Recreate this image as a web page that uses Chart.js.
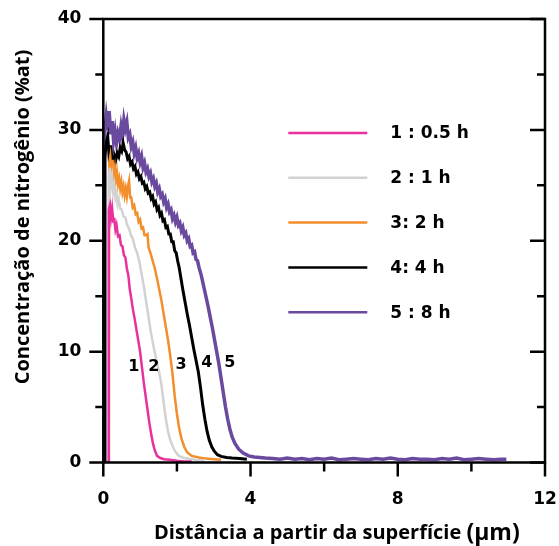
<!DOCTYPE html>
<html>
<head>
<meta charset="utf-8">
<script src="https://cdn.jsdelivr.net/npm/chart.js@4.4.0/dist/chart.umd.min.js"></script>
<style>
  html, body { margin: 0; padding: 0; background: #fff; }
</style>
</head>
<body>
<canvas id="chart" width="559" height="546"></canvas>
<script>
// --- Data (x in µm, y in %at) ---

const seriesLabels = ['1 : 0.5 h', '2 : 1 h', '3: 2 h', '4: 4 h', '5 : 8 h'];
const seriesColors = ['#e8319c', '#d2d2d2', '#f28e2b', '#000000', '#6a4a9e'];

const pinkX = [0.14, 0.15, 0.18, 0.21, 0.24, 0.27, 0.30, 0.33, 0.36, 0.40, 0.44, 0.48, 0.52, 0.56, 0.60, 0.64, 0.68, 0.72, 0.76, 0.80, 0.85, 0.90, 0.95, 1.00, 1.05, 1.10, 1.15, 1.20, 1.25, 1.30, 1.35, 1.40, 1.46, 1.55, 1.65, 1.80, 2.00, 2.20, 2.40];
const pinkY = [0, 22.8, 23.2, 22.1, 22.9, 21.8, 21.9, 21.0, 21.4, 20.4, 20.5, 19.6, 19.5, 18.7, 18.5, 17.5, 16.9, 15.6, 14.8, 13.9, 13.0, 12.0, 11.0, 10.0, 8.6, 7.2, 6.0, 4.8, 3.6, 2.6, 1.7, 1.1, 0.6, 0.4, 0.3, 0.25, 0.15, 0.1, 0.1];

const grayX = [0.14, 0.15, 0.18, 0.21, 0.24, 0.27, 0.30, 0.33, 0.36, 0.39, 0.42, 0.46, 0.50, 0.55, 0.60, 0.65, 0.70, 0.75, 0.80, 0.86, 0.92, 0.98, 1.04, 1.10, 1.16, 1.22, 1.28, 1.34, 1.40, 1.46, 1.52, 1.58, 1.64, 1.70, 1.76, 1.82, 1.88, 1.95, 2.05, 2.20, 2.40, 2.60, 2.75];
const grayY = [0, 25.8, 26.6, 25.0, 25.7, 24.4, 25.0, 23.9, 24.3, 23.3, 23.7, 22.9, 22.8, 22.2, 22.1, 21.4, 21.1, 20.5, 20.2, 19.4, 18.9, 18.1, 17.0, 15.9, 14.6, 13.3, 12.0, 10.9, 9.9, 9.0, 8.1, 7.0, 5.4, 3.9, 2.8, 2.0, 1.5, 1.0, 0.6, 0.4, 0.3, 0.2, 0.2];

const orangeX = [0.15, 0.16, 0.19, 0.22, 0.25, 0.28, 0.31, 0.34, 0.37, 0.40, 0.43, 0.46, 0.49, 0.52, 0.55, 0.58, 0.61, 0.64, 0.67, 0.70, 0.73, 0.76, 0.80, 0.84, 0.88, 0.92, 0.96, 1.00, 1.04, 1.08, 1.12, 1.16, 1.20, 1.23, 1.28, 1.34, 1.40, 1.46, 1.52, 1.58, 1.64, 1.70, 1.76, 1.82, 1.88, 1.94, 2.00, 2.06, 2.12, 2.20, 2.28, 2.40, 2.60, 2.80, 3.00, 3.20];
const orangeY = [0, 27.0, 27.6, 26.2, 27.3, 26.0, 26.6, 25.5, 26.2, 25.1, 25.6, 24.7, 25.3, 24.4, 24.9, 24.1, 24.7, 24.0, 24.9, 25.4, 23.9, 23.9, 23.0, 23.2, 22.4, 22.5, 21.7, 21.9, 21.1, 21.2, 20.5, 20.5, 20.6, 19.4, 18.9, 18.2, 17.5, 16.6, 15.6, 14.6, 13.4, 12.2, 11.0, 9.6, 8.0, 6.0, 4.4, 3.1, 2.2, 1.4, 0.9, 0.6, 0.45, 0.35, 0.3, 0.25];

const blackX = [0.03, 0.04, 0.08, 0.12, 0.15, 0.18, 0.20, 0.24, 0.28, 0.31, 0.34, 0.38, 0.42, 0.46, 0.50, 0.54, 0.58, 0.62, 0.66, 0.70, 0.74, 0.78, 0.82, 0.86, 0.90, 0.94, 0.98, 1.02, 1.06, 1.10, 1.14, 1.18, 1.22, 1.26, 1.30, 1.34, 1.38, 1.42, 1.46, 1.50, 1.54, 1.58, 1.62, 1.66, 1.70, 1.74, 1.78, 1.82, 1.86, 1.90, 1.94, 1.98, 2.02, 2.06, 2.10, 2.16, 2.22, 2.28, 2.34, 2.40, 2.46, 2.52, 2.58, 2.64, 2.70, 2.76, 2.82, 2.88, 2.95, 3.02, 3.10, 3.20, 3.35, 3.50, 3.70, 3.90];
const blackY = [0, 27.5, 28.8, 29.4, 28.0, 26.4, 28.6, 27.2, 26.2, 27.6, 27.3, 27.9, 27.6, 28.4, 28.1, 28.8, 28.2, 28.0, 27.4, 27.6, 26.9, 27.1, 26.5, 26.7, 26.0, 26.2, 25.6, 25.8, 25.2, 25.3, 24.7, 24.9, 24.3, 24.4, 23.8, 24.0, 23.3, 23.5, 22.8, 23.0, 22.3, 22.5, 21.8, 21.9, 21.2, 21.3, 20.6, 20.6, 19.9, 19.9, 19.1, 18.9, 18.2, 17.6, 16.8, 15.6, 14.5, 13.4, 12.4, 11.3, 10.2, 9.2, 8.2, 6.8, 5.2, 3.9, 2.8, 2.0, 1.4, 1.0, 0.7, 0.55, 0.45, 0.4, 0.35, 0.3];

const purpleX = [0.03, 0.04, 0.08, 0.12, 0.16, 0.20, 0.24, 0.28, 0.32, 0.36, 0.40, 0.44, 0.48, 0.52, 0.56, 0.60, 0.64, 0.68, 0.72, 0.76, 0.80, 0.84, 0.88, 0.92, 0.96, 1.00, 1.04, 1.08, 1.12, 1.16, 1.20, 1.24, 1.28, 1.32, 1.36, 1.40, 1.44, 1.48, 1.52, 1.56, 1.60, 1.64, 1.68, 1.72, 1.76, 1.80, 1.84, 1.88, 1.92, 1.96, 2.00, 2.04, 2.08, 2.12, 2.16, 2.20, 2.24, 2.28, 2.32, 2.36, 2.40, 2.44, 2.48, 2.52, 2.56, 2.60, 2.66, 2.72, 2.78, 2.84, 2.90, 2.96, 3.02, 3.08, 3.14, 3.20, 3.26, 3.32, 3.38, 3.44, 3.50, 3.58, 3.68, 3.80, 3.95, 4.10, 4.40, 4.60, 4.80, 5.00, 5.20, 5.40, 5.60, 5.80, 6.00, 6.20, 6.40, 6.60, 6.80, 7.00, 7.20, 7.40, 7.60, 7.80, 8.00, 8.20, 8.40, 8.60, 8.80, 9.00, 9.20, 9.40, 9.60, 9.80, 10.00, 10.20, 10.40, 10.60, 10.80, 10.95];
const purpleY = [0, 29.8, 31.2, 30.0, 31.7, 29.6, 30.8, 29.0, 29.9, 28.8, 29.7, 29.2, 30.3, 29.4, 30.9, 30.1, 30.7, 29.3, 29.6, 28.5, 28.9, 27.9, 28.4, 27.5, 27.9, 27.1, 27.6, 26.6, 27.0, 26.2, 26.5, 25.8, 26.1, 25.3, 25.6, 24.9, 25.2, 24.4, 24.7, 24.0, 24.2, 23.5, 23.8, 23.0, 23.3, 22.6, 22.8, 22.0, 22.3, 21.7, 22.1, 21.4, 21.6, 20.9, 21.2, 20.5, 20.7, 20.0, 20.2, 19.5, 19.6, 18.9, 19.0, 18.3, 18.2, 17.6, 16.9, 16.0, 15.1, 14.2, 13.2, 12.2, 11.1, 10.0, 8.9, 7.6, 6.3, 5.0, 3.9, 3.0, 2.3, 1.7, 1.2, 0.85, 0.6, 0.5, 0.4, 0.35, 0.3, 0.4, 0.3, 0.35, 0.25, 0.35, 0.3, 0.4, 0.25, 0.3, 0.35, 0.3, 0.25, 0.35, 0.3, 0.4, 0.3, 0.25, 0.35, 0.3, 0.3, 0.25, 0.35, 0.3, 0.4, 0.25, 0.3, 0.35, 0.3, 0.25, 0.3, 0.3];

const xTicks = [0, 4, 8, 12];
const yTicks = [0, 10, 20, 30, 40];

// curve numbers written next to the falling edges
const curveNumbers = ['1', '2', '3', '4', '5'];
const curveNumberX = [0.83, 1.37, 2.11, 2.81, 3.44];
const curveNumberY = [8.6, 8.6, 8.8, 9.0, 9.0];

const xTitle = 'Distância a partir da superfície ';
const xTitleUnit = '(µm)';
const yTitle = 'Concentração de nitrogênio (%at)';

// --- Build datasets ---

const allX = [pinkX, grayX, orangeX, blackX, purpleX];
const allY = [pinkY, grayY, orangeY, blackY, purpleY];
const widths = [2.5, 2.5, 2.5, 3, 3.5];

const datasets = allX.map((xs, i) => ({
  label: seriesLabels[i],
  data: xs.map((x, j) => ({ x: x, y: allY[i][j] })),
  borderColor: seriesColors[i],
  borderWidth: widths[i],
  pointRadius: 0,
  showLine: true,
  tension: 0,
}));

const tickFont = { family: 'DejaVu Sans', weight: 'bold', size: 17 };

// frame, tick marks, legend, curve numbers and axis titles
const decorations = {
  id: 'decorations',
  afterDatasetsDraw(chart) {
    const { ctx, chartArea: a, scales: { x, y } } = chart;
    ctx.save();
    ctx.strokeStyle = '#000';
    ctx.lineWidth = 2.5;

    ctx.beginPath();
    ctx.rect(a.left, a.top, a.right - a.left, a.bottom - a.top);
    ctx.stroke();

    x.ticks.forEach(t => {
      const px = x.getPixelForValue(t.value);
      const len = xTicks.includes(t.value) ? 14 : 9;
      ctx.beginPath();
      ctx.moveTo(px, a.bottom);
      ctx.lineTo(px, a.bottom + len);
      ctx.stroke();
    });

    y.ticks.forEach(t => {
      const py = y.getPixelForValue(t.value);
      const major = yTicks.includes(t.value);
      ctx.beginPath();
      ctx.moveTo(a.left, py);
      ctx.lineTo(a.left - (major ? 14 : 8), py);
      ctx.moveTo(a.right, py);
      ctx.lineTo(a.right - (major ? 15 : 8), py);
      ctx.stroke();
    });

    // legend
    ctx.font = 'bold 17px "DejaVu Sans"';
    ctx.fillStyle = '#000';
    ctx.textBaseline = 'middle';
    ctx.textAlign = 'left';
    seriesLabels.forEach((lab, i) => {
      const ly = a.top + 114 + i * 44.8;
      ctx.strokeStyle = seriesColors[i];
      ctx.lineWidth = 2.5;
      ctx.beginPath();
      ctx.moveTo(a.left + 185, ly);
      ctx.lineTo(a.left + 264, ly);
      ctx.stroke();
      ctx.fillText(lab, a.left + 287, ly + 1);
    });

    // numbers beside the curves
    ctx.font = 'bold 16px "DejaVu Sans"';
    ctx.textAlign = 'center';
    curveNumbers.forEach((n, i) => {
      ctx.fillText(n, x.getPixelForValue(curveNumberX[i]), y.getPixelForValue(curveNumberY[i]));
    });

    // x title, unit a bit larger
    ctx.textAlign = 'left';
    ctx.textBaseline = 'alphabetic';
    ctx.font = 'bold 20px "Open Sans"';
    ctx.fillText(xTitle, 154, 539);
    const w = ctx.measureText(xTitle).width;
    ctx.font = 'bold 23px "Open Sans"';
    ctx.fillText(xTitleUnit, 154 + w, 540);

    // y title
    ctx.translate(29, 217);
    ctx.rotate(-Math.PI / 2);
    ctx.font = 'bold 20px "Open Sans"';
    ctx.textAlign = 'center';
    ctx.fillText(yTitle, 0, 0);
    ctx.restore();
  }
};

new Chart(document.getElementById('chart'), {
  type: 'scatter',
  data: { datasets },
  options: {
    responsive: false,
    animation: false,
    layout: { padding: { top: 19, right: 14, left: 0, bottom: 0 } },
    plugins: { legend: { display: false }, tooltip: { enabled: false } },
    scales: {
      x: {
        type: 'linear', min: 0, max: 12,
        border: { display: false },
        grid: { display: true, drawOnChartArea: false, tickLength: 14, tickColor: 'rgba(0,0,0,0)' },
        ticks: {
          stepSize: 2, padding: 13, color: '#000', font: tickFont, maxRotation: 0,
          callback: v => (xTicks.includes(v) ? String(v) : '')
        },
        afterFit: s => { s.height = 83.5; s.paddingLeft = 0; s.paddingRight = 0; }
      },
      y: {
        type: 'linear', min: 0, max: 40,
        border: { display: false },
        grid: { display: true, drawOnChartArea: false, tickLength: 14, tickColor: 'rgba(0,0,0,0)' },
        ticks: {
          stepSize: 5, padding: 8, color: '#000', font: tickFont,
          callback: v => (yTicks.includes(v) ? String(v) : '')
        },
        afterFit: s => { s.width = 103.3; s.paddingTop = 0; s.paddingBottom = 0; }
      }
    }
  },
  plugins: [decorations]
});
</script>
</body>
</html>
